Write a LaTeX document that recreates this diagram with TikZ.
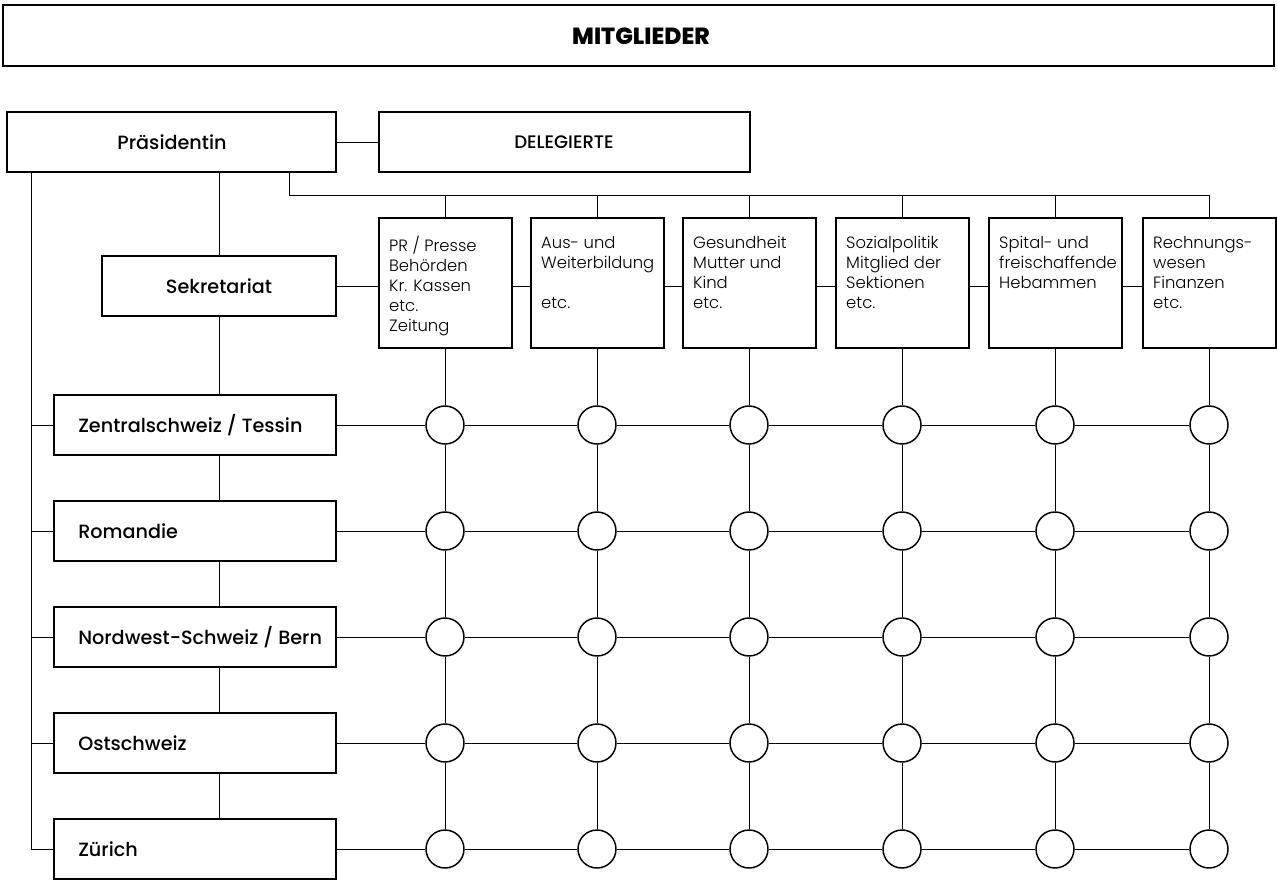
\documentclass[tikz,border=0pt]{standalone}
\usepackage{fontspec}
\setmainfont{Poppins}
\IfFontExistsTF{Poppins Light}{\newfontfamily\lightf{Poppins Light}}{\newfontfamily\lightf{Poppins}}
\IfFontExistsTF{Poppins Medium}{\newfontfamily\medf{Poppins Medium}}{\newfontfamily\medf{Poppins}}
\IfFontExistsTF{Poppins ExtraBold}{\newfontfamily\heavyf{Poppins ExtraBold}}{\newfontfamily\heavyf{Poppins}}
\newcommand\bx[5]{\node[box, minimum width={(#4-#2)*0.75pt}, minimum height={(#5-#3)*0.75pt}] (#1) at ({(#2+#4)/2},{(#3+#5)/2}) {};}
\begin{document}
\begin{tikzpicture}[x=0.75pt,y=-0.75pt,
  box/.style={draw, line width=1.1pt, inner sep=0pt, rectangle},
  conn/.style={line width=0.75pt},
  circ/.style={circle, draw, line width=1.1pt, minimum size=28.5pt, inner sep=0pt},
  coltext/.style={anchor=north west, align=left, inner sep=0pt, font=\lightf\fontsize{12.3}{15}\selectfont},
  regtext/.style={anchor=west, inner sep=0pt, font=\medf\fontsize{14.4}{16}\selectfont},
  midtext/.style={inner sep=0pt, font=\medf\fontsize{14.4}{16}\selectfont}]
\useasboundingbox (0,0) rectangle (1277,881);
% header
\bx{mit}{3}{5}{1274}{66}
\node[inner sep=0pt, font=\heavyf\fontsize{17.5}{20}\selectfont] (mitt) at (641,36) {MITGLIEDER};
% top row
\bx{pres}{7}{112}{336}{172}
\node[midtext] (prest) at (172,142) {Präsidentin};
\bx{del}{379}{112}{750}{172}
\node[midtext, font=\medf\fontsize{13.6}{16}\selectfont] (delt) at (564,142) {DELEGIERTE};
\bx{sek}{102}{256}{336}{316}
\node[midtext] (sekt) at (219,286) {Sekretariat};
% column boxes
\bx{c1}{379}{218}{512}{348}
\bx{c2}{531}{218}{664}{348}
\bx{c3}{683}{218}{816}{348}
\bx{c4}{836}{218}{969}{348}
\bx{c5}{989}{218}{1122}{348}
\bx{c6}{1143}{218}{1276}{348}
\node[coltext] (t1) at ([xshift=8pt,yshift=-14pt]c1.north west) {PR / Presse\\Behörden\\Kr. Kassen\\etc.\\Zeitung};
\node[coltext] (t2) at ([xshift=8pt,yshift=-14pt]c2.north west) {Aus- und\\Weiterbildung\\[15pt]etc.};
\node[coltext] (t3) at ([xshift=8pt,yshift=-14pt]c3.north west) {Gesundheit\\Mutter und\\Kind\\etc.};
\node[coltext] (t4) at ([xshift=8pt,yshift=-14pt]c4.north west) {Sozialpolitik\\Mitglied der\\Sektionen\\etc.};
\node[coltext] (t5) at ([xshift=8pt,yshift=-14pt]c5.north west) {Spital- und\\freischaffende\\Hebammen};
\node[coltext] (t6) at ([xshift=8pt,yshift=-14pt]c6.north west) {Rechnungs-\\wesen\\Finanzen\\etc.};
% regions
\bx{r1}{54}{395}{336}{455}
\bx{r2}{54}{501}{336}{561}
\bx{r3}{54}{607}{336}{667}
\bx{r4}{54}{713}{336}{773}
\bx{r5}{54}{819}{336}{879}
\foreach \rw/\rowy in {1/425,2/531,3/637,4/743,5/849}{
  \foreach \cl/\colx in {1/445,2/597,3/749,4/902,5/1055,6/1209}{
    \node[circ] (k\rw\cl) at (\colx,\rowy) {};
  }
}
\node[regtext] (rt1) at (78,425) {Zentralschweiz / Tessin};
\node[regtext] (rt2) at (78,531) {Romandie};
\node[regtext] (rt3) at (78,637) {Nordwest-Schweiz / Bern};
\node[regtext] (rt4) at (78,743) {Ostschweiz};
\node[regtext] (rt5) at (78,849) {Zürich};
% connectors
\coordinate (presL) at (31,172);
\coordinate (presM) at (219,172);
\coordinate (presB) at (289,172);
\coordinate (bus) at (1209,195);
\draw[conn] (pres.east) -- (del.west);
\draw[conn] (presL) |- (r5.west);
\foreach \rw in {1,...,4}{\draw[conn] (r\rw.west) -| (presL);}
\draw[conn] (presM) -- (sek.north);
\draw[conn] (sek.south) -- (sek.south |- r1.north);
\foreach \ra/\rb in {1/2,2/3,3/4,4/5}{\draw[conn] (sek.south |- r\ra.south) -- (sek.south |- r\rb.north);}
\draw[conn] (presB) |- (bus);
\foreach \cl in {1,...,6}{\draw[conn] (k1\cl |- c\cl.north) -- (k1\cl |- bus);}
\draw[conn] (sek.east) -- (c1.west |- sek.east);
\foreach \ca/\cb in {1/2,2/3,3/4,4/5,5/6}{\draw[conn] (c\ca.east |- sek.east) -- (c\cb.west |- sek.east);}
\foreach \cl in {1,...,6}{
  \draw[conn] (k1\cl |- c\cl.south) -- (k1\cl.north);
  \foreach \ra/\rb in {1/2,2/3,3/4,4/5}{\draw[conn] (k\ra\cl.south) -- (k\rb\cl.north);}
}
\foreach \rw in {1,...,5}{
  \draw[conn] (r\rw.east) -- (k\rw1.west);
  \foreach \ca/\cb in {1/2,2/3,3/4,4/5,5/6}{\draw[conn] (k\rw\ca.east) -- (k\rw\cb.west);}
}
\end{tikzpicture}
\end{document}
